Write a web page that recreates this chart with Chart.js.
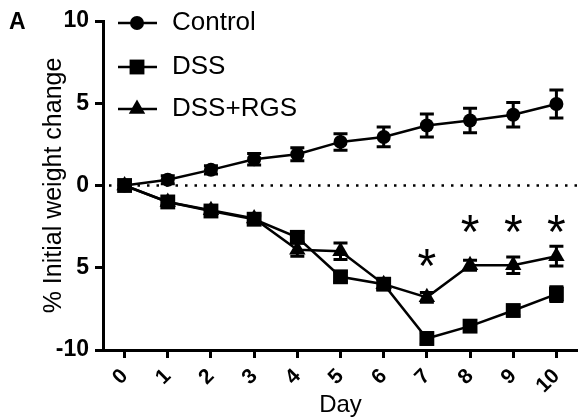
<!DOCTYPE html>
<html>
<head>
<meta charset="utf-8">
<script src="https://cdn.jsdelivr.net/npm/chart.js@4"></script>
<style>
  html, body { margin: 0; padding: 0; background: #fff; }
  #wrap { width: 578px; height: 420px; position: relative; }
</style>
</head>
<body>
<div id="wrap"><canvas id="c" width="578" height="420"></canvas></div>
<script>
// ---- data ----
const days = ['0','1','2','3','4','5','6','7','8','9','10'];
const controlMean = [0, 0.35, 0.95, 1.6, 1.9, 2.65, 2.95, 3.65, 3.95, 4.3, 4.95];
const controlErr  = [0, 0.25, 0.25, 0.35, 0.4, 0.5, 0.6, 0.7, 0.75, 0.75, 0.85];
const dssMean     = [0, -1.0, -1.55, -2.05, -3.15, -5.55, -6.0, -9.3, -8.55, -7.6, -6.6];
const dssErr      = [0, 0.2, 0.2, 0.2, 0.3, 0.3, 0.3, 0.35, 0.3, 0.3, 0.45];
const rgsMean     = [0, -1.0, -1.5, -2.0, -3.9, -4.0, -6.0, -6.8, -4.85, -4.85, -4.3];
const rgsErr      = [0, 0.2, 0.2, 0.2, 0.4, 0.5, 0.3, 0.3, 0.3, 0.5, 0.6];
const seriesNames = ['Control', 'DSS', 'DSS+RGS'];
const yTickLabels = ['-10', '5', '0', '5', '10'];
const starDays    = ['7', '8', '9', '10'];
const starY       = [-4.4, -2.3, -2.3, -2.3];
const panelLetter = 'A';
const yTitle = '% Initial weight change';
const xTitle = 'Day';

const FONT = '"Liberation Sans", Arial, Helvetica, sans-serif';

function drawMarker(ctx, style, r, x, y) {
  ctx.beginPath();
  if (style === 'circle') {
    ctx.arc(x, y, r, 0, Math.PI * 2);
  } else if (style === 'rect') {
    const s = Math.SQRT1_2 * r;
    ctx.rect(x - s, y - s, 2 * s, 2 * s);
  } else if (style === 'triangle') {
    const a = Math.PI / 2, t = Math.PI * 2 / 3;
    ctx.moveTo(x + Math.cos(-a) * r, y + Math.sin(-a) * r);
    ctx.lineTo(x + Math.cos(-a + t) * r, y + Math.sin(-a + t) * r);
    ctx.lineTo(x + Math.cos(-a + 2 * t) * r, y + Math.sin(-a + 2 * t) * r);
    ctx.closePath();
  }
  ctx.fill();
}

const errorArrays = [controlErr, dssErr, rgsErr];

const extrasPlugin = {
  id: 'extras',
  beforeDatasetsDraw(chart) {
    const {ctx, chartArea, scales} = chart;
    const y0 = scales.y.getPixelForValue(0);
    ctx.save();
    // dotted zero line
    ctx.strokeStyle = '#000';
    ctx.lineWidth = 2.5;
    ctx.setLineDash([2.5, 7]);
    ctx.beginPath();
    ctx.moveTo(chartArea.left + 6, y0);
    ctx.lineTo(chartArea.right, y0);
    ctx.stroke();
    ctx.setLineDash([]);
    // error bars
    ctx.lineWidth = 3;
    chart.data.datasets.forEach((ds, i) => {
      const err = errorArrays[i];
      ds.data.forEach((v, j) => {
        const e = err[j];
        if (!e) return;
        const x = scales.x.getPixelForValue(j);
        const yt = scales.y.getPixelForValue(v + e);
        const yb = scales.y.getPixelForValue(v - e);
        ctx.beginPath();
        ctx.moveTo(x, yt); ctx.lineTo(x, yb);
        ctx.moveTo(x - 7, yt); ctx.lineTo(x + 7, yt);
        ctx.moveTo(x - 7, yb); ctx.lineTo(x + 7, yb);
        ctx.stroke();
      });
    });
    ctx.restore();
  },
  afterDatasetsDraw(chart) {
    const {ctx, scales} = chart;
    ctx.save();
    ctx.fillStyle = '#000';
    // significance asterisks
    ctx.font = '48px ' + FONT;
    ctx.textAlign = 'center';
    ctx.textBaseline = 'alphabetic';
    starDays.forEach((d, i) => {
      const x = scales.x.getPixelForValue(days.indexOf(d));
      const y = scales.y.getPixelForValue(starY[i]);
      const m = ctx.measureText('*');
      const asc = m.actualBoundingBoxAscent, desc = m.actualBoundingBoxDescent;
      ctx.fillText('*', x, y + (asc - desc) / 2);
    });
    // panel letter
    ctx.font = 'bold 23px ' + FONT;
    ctx.textAlign = 'left';
    ctx.textBaseline = 'middle';
    ctx.fillText(panelLetter, 9, 23);
    // legend
    const rows = [23, 67, 109];
    chart.data.datasets.forEach((ds, i) => {
      const y = rows[i];
      ctx.strokeStyle = '#000';
      ctx.lineWidth = 2.5;
      ctx.beginPath();
      ctx.moveTo(118, y); ctx.lineTo(157, y);
      ctx.stroke();
      drawMarker(ctx, ds.pointStyle, ds.pointRadius, 137, y);
      ctx.font = '26px ' + FONT;
      ctx.textAlign = 'left';
      ctx.textBaseline = 'middle';
      ctx.fillText(ds.label, 172, y);
    });
    ctx.restore();
  }
};

const styles = [
  {pointStyle: 'circle', pointRadius: 7},
  {pointStyle: 'rect', pointRadius: 10.5},
  {pointStyle: 'triangle', pointRadius: 9.5}
];
const means = [controlMean, dssMean, rgsMean];

new Chart(document.getElementById('c'), {
  type: 'line',
  data: {
    labels: days,
    datasets: means.map((m, i) => ({
      label: seriesNames[i],
      data: m,
      borderColor: '#000',
      backgroundColor: '#000',
      pointBackgroundColor: '#000',
      pointBorderColor: '#000',
      pointBorderWidth: 0,
      borderWidth: 2.5,
      tension: 0,
      pointStyle: styles[i].pointStyle,
      pointRadius: styles[i].pointRadius,
      pointHoverRadius: styles[i].pointRadius,
      clip: false
    }))
  },
  options: {
    responsive: false,
    animation: false,
    events: [],
    layout: { autoPadding: false, padding: { top: 21, right: 0, left: 0, bottom: 0 } },
    plugins: { legend: { display: false }, tooltip: { enabled: false } },
    scales: {
      x: {
        type: 'category',
        offset: true,
        grid: { display: true, drawOnChartArea: false, drawTicks: true, tickLength: 8, tickWidth: 3, color: '#000', offset: false },
        border: { display: true, color: '#000', width: 3 },
        ticks: { color: '#000', font: { family: FONT, size: 21, weight: 'bold' }, maxRotation: 45, minRotation: 45, padding: 6, autoSkip: false },
        title: { display: true, text: xTitle, color: '#000', font: { family: FONT, size: 24 }, padding: { top: 0, bottom: 0 } },
        afterFit(s) { s.height = 70; s.paddingLeft = 0; s.paddingRight = 0; }
      },
      y: {
        min: -10, max: 10,
        ticks: { stepSize: 5, color: '#000', font: { family: FONT, size: 23, weight: 'bold' }, padding: 6,
          callback: (v, i) => yTickLabels[i] },
        grid: { display: true, drawOnChartArea: false, drawTicks: true, tickLength: 8, tickWidth: 3, color: '#000' },
        border: { display: true, color: '#000', width: 3 },
        title: { display: true, text: yTitle, color: '#000', font: { family: FONT, size: 25 }, padding: { top: 39, bottom: 0 } },
        afterFit(s) { s.width = 103; }
      }
    }
  },
  plugins: [extrasPlugin]
});
</script>
</body>
</html>
